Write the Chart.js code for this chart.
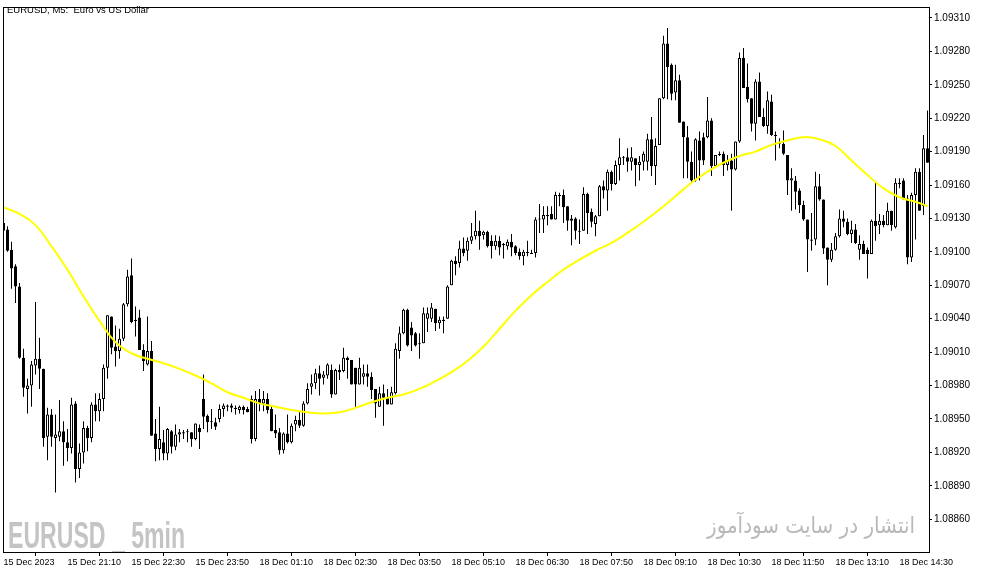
<!DOCTYPE html>
<html>
<head>
<meta charset="utf-8">
<script src="https://cdn.jsdelivr.net/npm/chart.js@4.4.0/dist/chart.umd.min.js"></script>
<style>
html,body{margin:0;padding:0;background:#fff;overflow:hidden;}
#wrap{width:983px;height:574px;position:relative;}
canvas{display:block;}
</style>
</head>
<body>
<div id="wrap"><canvas id="c" width="983" height="574"></canvas></div>
<script>
// ---- Data (EURUSD M5) ----
const open = [
1.09126,1.09120,1.09102,1.09087,1.09069,1.09005,1.08977,1.08980,1.08998,1.09004,
1.08995,1.08934,1.08954,1.08933,1.08934,1.08939,1.08929,1.08924,1.08964,1.08905,
1.08920,1.08942,1.08933,1.08963,1.08957,1.08968,1.08996,1.09042,1.09015,1.09011,
1.09022,1.09053,1.09079,1.09039,1.09041,1.09012,1.08999,1.09011,1.08937,1.08923,
1.08929,1.08919,1.08939,1.08925,1.08936,1.08937,1.08938,1.08938,1.08932,1.08942,
1.08968,1.08953,1.08948,1.08947,1.08950,1.08959,1.08962,1.08962,1.08960,1.08958,
1.08961,1.08959,1.08968,1.08932,1.08968,1.08964,1.08968,1.08959,1.08940,1.08938,
1.08922,1.08937,1.08929,1.08945,1.08949,1.08944,1.08964,1.08979,1.08982,1.08991,
1.08987,1.08989,1.08994,1.08972,1.08994,1.08993,1.09005,1.09003,1.08996,1.08981,
1.08988,1.08991,1.08988,1.08977,1.08961,1.08973,1.08969,1.08963,1.08973,1.09011,
1.09027,1.09048,1.09032,1.09027,1.09018,1.09018,1.09040,1.09040,1.09049,1.09036,
1.09039,1.09040,1.09070,1.09092,1.09090,1.09103,1.09101,1.09110,1.09114,1.09119,
1.09115,1.09118,1.09110,1.09105,1.09110,1.09107,1.09105,1.09109,1.09105,1.09100,
1.09096,1.09099,1.09099,1.09099,1.09129,1.09129,1.09133,1.09134,1.09129,1.09151,
1.09151,1.09141,1.09130,1.09130,1.09119,1.09119,1.09152,1.09136,1.09125,1.09132,
1.09159,1.09155,1.09172,1.09161,1.09178,1.09185,1.09185,1.09181,1.09184,1.09178,
1.09181,1.09181,1.09201,1.09177,1.09196,1.09238,1.09287,1.09268,1.09243,1.09254,
1.09217,1.09203,1.09181,1.09164,1.09200,1.09203,1.09203,1.09218,1.09177,1.09187,
1.09188,1.09178,1.09182,1.09174,1.09199,1.09274,1.09248,1.09238,1.09215,1.09253,
1.09221,1.09213,1.09235,1.09205,1.09198,1.09197,1.09187,1.09164,1.09164,1.09155,
1.09142,1.09129,1.09110,1.09111,1.09159,1.09147,1.09104,1.09093,1.09102,1.09114,
1.09130,1.09127,1.09116,1.09120,1.09102,1.09107,1.09102,1.09098,1.09128,1.09124,
1.09128,1.09124,1.09137,1.09122,1.09162,1.09164,1.09148,1.09095,1.09151,1.09172,
1.09141,1.09193];
const high = [
1.09130,1.09123,1.09109,1.09089,1.09072,1.09013,1.08986,1.09002,1.09055,1.09023,
1.08995,1.08960,1.08959,1.08954,1.08967,1.08948,1.08941,1.08969,1.08966,1.08928,
1.08948,1.08944,1.08965,1.08973,1.08973,1.08999,1.09043,1.09042,1.09034,1.09031,
1.09054,1.09084,1.09094,1.09051,1.09048,1.09017,1.09042,1.09020,1.08950,1.08961,
1.08940,1.08942,1.08940,1.08945,1.08941,1.08940,1.08941,1.08938,1.08946,1.08945,
1.08990,1.08954,1.08959,1.08951,1.08963,1.08964,1.08963,1.08964,1.08962,1.08962,
1.08962,1.08961,1.08971,1.08975,1.08977,1.08975,1.08973,1.08962,1.08954,1.08942,
1.08938,1.08954,1.08946,1.08953,1.08957,1.08966,1.08982,1.08990,1.08995,1.08998,
1.08993,1.09000,1.08999,1.08995,1.08999,1.09014,1.09006,1.09003,1.08996,1.09005,
1.08999,1.08999,1.08992,1.08977,1.08979,1.08981,1.08977,1.08979,1.09018,1.09033,
1.09049,1.09049,1.09037,1.09028,1.09027,1.09050,1.09050,1.09054,1.09049,1.09042,
1.09042,1.09070,1.09093,1.09096,1.09110,1.09113,1.09113,1.09126,1.09137,1.09128,
1.09119,1.09119,1.09115,1.09115,1.09114,1.09108,1.09111,1.09116,1.09106,1.09103,
1.09102,1.09110,1.09102,1.09131,1.09143,1.09141,1.09141,1.09141,1.09154,1.09153,
1.09156,1.09141,1.09133,1.09131,1.09129,1.09158,1.09153,1.09139,1.09133,1.09160,
1.09164,1.09174,1.09173,1.09182,1.09202,1.09186,1.09193,1.09194,1.09184,1.09186,
1.09190,1.09206,1.09221,1.09202,1.09238,1.09294,1.09301,1.09269,1.09268,1.09259,
1.09217,1.09213,1.09190,1.09202,1.09208,1.09207,1.09239,1.09220,1.09187,1.09190,
1.09190,1.09187,1.09188,1.09199,1.09279,1.09283,1.09269,1.09238,1.09255,1.09261,
1.09229,1.09244,1.09241,1.09208,1.09202,1.09209,1.09187,1.09175,1.09168,1.09157,
1.09146,1.09129,1.09135,1.09172,1.09170,1.09147,1.09104,1.09108,1.09117,1.09138,
1.09137,1.09130,1.09128,1.09125,1.09115,1.09110,1.09104,1.09129,1.09162,1.09134,
1.09133,1.09144,1.09137,1.09166,1.09166,1.09166,1.09151,1.09153,1.09175,1.09175,
1.09205,1.09227];
const low = [
1.09117,1.09100,1.09067,1.09054,1.09004,1.08970,1.08955,1.08961,1.08990,1.08977,
1.08925,1.08913,1.08925,1.08884,1.08930,1.08908,1.08912,1.08919,1.08893,1.08897,
1.08910,1.08921,1.08929,1.08948,1.08948,1.08957,1.08986,1.09008,1.08997,1.09004,
1.09020,1.09051,1.09036,1.09024,1.09012,1.08993,1.08998,1.08935,1.08912,1.08913,
1.08913,1.08913,1.08919,1.08922,1.08929,1.08932,1.08929,1.08925,1.08931,1.08923,
1.08941,1.08938,1.08941,1.08940,1.08947,1.08952,1.08957,1.08956,1.08954,1.08955,
1.08954,1.08956,1.08928,1.08930,1.08957,1.08957,1.08955,1.08939,1.08933,1.08918,
1.08919,1.08928,1.08928,1.08939,1.08942,1.08943,1.08963,1.08972,1.08977,1.08971,
1.08981,1.08986,1.08969,1.08972,1.08985,1.08992,1.08986,1.08981,1.08961,1.08981,
1.08981,1.08979,1.08968,1.08951,1.08961,1.08944,1.08963,1.08963,1.08972,1.09004,
1.09026,1.09015,1.09011,1.09015,1.09004,1.09018,1.09028,1.09037,1.09029,1.09031,
1.09027,1.09040,1.09070,1.09079,1.09086,1.09096,1.09092,1.09107,1.09111,1.09102,
1.09111,1.09104,1.09094,1.09102,1.09097,1.09094,1.09102,1.09096,1.09097,1.09093,
1.09088,1.09096,1.09098,1.09095,1.09117,1.09117,1.09124,1.09129,1.09129,1.09141,
1.09126,1.09119,1.09106,1.09111,1.09107,1.09119,1.09116,1.09122,1.09114,1.09132,
1.09148,1.09137,1.09155,1.09160,1.09164,1.09178,1.09172,1.09173,1.09159,1.09164,
1.09173,1.09173,1.09168,1.09160,1.09196,1.09237,1.09237,1.09236,1.09236,1.09216,
1.09166,1.09166,1.09163,1.09163,1.09164,1.09178,1.09202,1.09168,1.09177,1.09186,
1.09168,1.09173,1.09137,1.09173,1.09198,1.09247,1.09234,1.09208,1.09200,1.09221,
1.09212,1.09206,1.09204,1.09182,1.09193,1.09187,1.09151,1.09137,1.09138,1.09135,
1.09128,1.09082,1.09101,1.09106,1.09146,1.09098,1.09070,1.09091,1.09101,1.09113,
1.09122,1.09115,1.09108,1.09107,1.09093,1.09098,1.09076,1.09098,1.09110,1.09116,
1.09122,1.09124,1.09119,1.09121,1.09157,1.09147,1.09089,1.09091,1.09111,1.09137,
1.09133,1.09180];
const close = [
1.09119,1.09101,1.09085,1.09069,1.09005,1.08978,1.08980,1.08999,1.09004,1.08995,
1.08933,1.08954,1.08934,1.08936,1.08939,1.08929,1.08924,1.08963,1.08905,1.08920,
1.08942,1.08933,1.08963,1.08957,1.08968,1.08996,1.09043,1.09014,1.09011,1.09022,
1.09053,1.09078,1.09037,1.09038,1.09012,1.09002,1.09011,1.08935,1.08923,1.08932,
1.08919,1.08941,1.08925,1.08936,1.08938,1.08938,1.08939,1.08932,1.08946,1.08938,
1.08952,1.08947,1.08947,1.08943,1.08959,1.08962,1.08961,1.08960,1.08959,1.08961,
1.08958,1.08956,1.08932,1.08968,1.08964,1.08968,1.08958,1.08939,1.08937,1.08922,
1.08937,1.08929,1.08944,1.08949,1.08944,1.08964,1.08977,1.08982,1.08991,1.08986,
1.08990,1.08999,1.08972,1.08994,1.08992,1.09005,1.09003,1.08981,1.08981,1.08996,
1.08991,1.08988,1.08976,1.08964,1.08973,1.08969,1.08963,1.08974,1.09013,1.09027,
1.09048,1.09016,1.09025,1.09016,1.09017,1.09045,1.09045,1.09050,1.09036,1.09039,
1.09038,1.09069,1.09092,1.09089,1.09103,1.09099,1.09110,1.09114,1.09119,1.09114,
1.09118,1.09105,1.09105,1.09110,1.09104,1.09106,1.09109,1.09104,1.09099,1.09096,
1.09100,1.09100,1.09098,1.09129,1.09130,1.09133,1.09132,1.09129,1.09151,1.09150,
1.09140,1.09128,1.09128,1.09119,1.09118,1.09152,1.09135,1.09127,1.09132,1.09159,
1.09155,1.09172,1.09161,1.09178,1.09185,1.09184,1.09181,1.09185,1.09178,1.09181,
1.09188,1.09201,1.09177,1.09195,1.09238,1.09287,1.09266,1.09242,1.09254,1.09216,
1.09203,1.09181,1.09164,1.09201,1.09182,1.09182,1.09218,1.09177,1.09187,1.09188,
1.09178,1.09182,1.09174,1.09199,1.09274,1.09247,1.09237,1.09215,1.09253,1.09221,
1.09213,1.09236,1.09205,1.09204,1.09197,1.09188,1.09164,1.09166,1.09154,1.09142,
1.09129,1.09111,1.09111,1.09159,1.09147,1.09103,1.09093,1.09102,1.09114,1.09130,
1.09127,1.09116,1.09120,1.09108,1.09107,1.09098,1.09098,1.09128,1.09123,1.09128,
1.09124,1.09137,1.09124,1.09162,1.09161,1.09147,1.09095,1.09151,1.09172,1.09137,
1.09193,1.09180];

// Moving average (yellow), read at every 4th bar
const maIdx = [0,4,8,12,16,20,24,28,32,36,40,44,48,52,56,60,64,68,72,76,80,84,88,92,96,100,104,108,112,116,120,124,128,132,136,140,144,148,152,156,160,164,168,172,176,180,184,188,192,196,200,204,208,212,216,220,224,228,231];
const maVal = [1.09140,1.09134,1.09124,1.09105,1.09084,1.09060,1.09038,1.09019,1.09009,1.09004,1.09000,1.08995,1.08989,1.08982,1.08974,1.08969,1.08964,1.08961,1.08958,1.08956,1.08955,1.08956,1.08960,1.08965,1.08969,1.08972,1.08977,1.08984,1.08992,1.09002,1.09015,1.09031,1.09047,1.09061,1.09073,1.09084,1.09093,1.09101,1.09108,1.09117,1.09127,1.09138,1.09150,1.09162,1.09172,1.09180,1.09186,1.09190,1.09196,1.09200,1.09203,1.09201,1.09195,1.09182,1.09169,1.09157,1.09149,1.09145,1.09141];

// Tick labels
const xTickIdx = [0,16,32,48,64,80,96,112,128,144,160,176,192,208,224];
const xTickLabels = ['15 Dec 2023','15 Dec 21:10','15 Dec 22:30','15 Dec 23:50','18 Dec 01:10','18 Dec 02:30','18 Dec 03:50','18 Dec 05:10','18 Dec 06:30','18 Dec 07:50','18 Dec 09:10','18 Dec 10:30','18 Dec 11:50','18 Dec 13:10','18 Dec 14:30'];
const yTicks = [1.08860,1.08890,1.08920,1.08950,1.08980,1.09010,1.09040,1.09070,1.09100,1.09130,1.09160,1.09190,1.09220,1.09250,1.09280,1.09310];

const titleText = 'EURUSD, M5:  Euro vs US Dollar';
const wmLeft = 'EURUSD _ 5min';
const wmRight = 'انتشار در سایت سودآموز';

// ---- Build datasets ----
const wickData = open.map((o, i) => ({x: i, y: [low[i], high[i]]}));
const bodyData = open.map((o, i) => ({x: i, y: [o, close[i]]}));
const bodyColors = open.map((o, i) => close[i] >= o ? '#ffffff' : '#000000');
const maData = maIdx.map((k, j) => ({x: k, y: maVal[j]}));

const framePlugin = {
  id: 'frame',
  beforeDatasetsDraw(chart) {
    const ctx = chart.ctx;
    ctx.save();
    ctx.fillStyle = '#c4c4c4';
    ctx.font = 'bold 36px "Liberation Sans", Arial, sans-serif';
    ctx.textBaseline = 'alphabetic';
    ctx.textAlign = 'left';
    let w = ctx.measureText(wmLeft).width;
    ctx.save();
    ctx.translate(8, 548);
    ctx.scale(177 / w, 1);
    ctx.fillText(wmLeft, 0, 0);
    ctx.restore();
    ctx.fillStyle = '#b9b9b9';
    ctx.font = '23px "DejaVu Sans", sans-serif';
    w = ctx.measureText(wmRight).width;
    ctx.save();
    ctx.translate(707, 533);
    ctx.scale(208 / w, 1);
    ctx.fillText(wmRight, 0, 0);
    ctx.restore();
    ctx.restore();
  },
  afterDraw(chart) {
    const ctx = chart.ctx;
    const a = chart.chartArea;
    ctx.save();
    ctx.strokeStyle = '#000';
    ctx.lineWidth = 1;
    ctx.strokeRect(a.left - 0.5, a.top - 0.5, a.right - a.left + 1, a.bottom - a.top + 1);
    ctx.fillStyle = '#000';
    ctx.font = '9.5px "Liberation Sans", Arial, sans-serif';
    ctx.textBaseline = 'top';
    ctx.textAlign = 'left';
    ctx.fillText(titleText, 7, 6);
    ctx.restore();
  }
};

new Chart(document.getElementById('c'), {
  type: 'bar',
  data: {
    datasets: [
      {
        type: 'line', label: 'MA', data: maData, order: 0,
        borderColor: '#ffff00', borderWidth: 2, pointRadius: 0,
        tension: 0.45, fill: false
      },
      {
        label: 'body', data: bodyData, order: 1, grouped: false,
        backgroundColor: bodyColors, borderColor: '#000000', borderWidth: 1,
        borderSkipped: false, barThickness: 3, minBarLength: 1, inflateAmount: 0
      },
      {
        label: 'wick', data: wickData, order: 2, grouped: false,
        backgroundColor: '#000000', borderWidth: 0, barThickness: 1, inflateAmount: 0
      }
    ]
  },
  options: {
    responsive: false,
    maintainAspectRatio: false,
    devicePixelRatio: 1,
    animation: false,
    layout: { padding: { left: 4, top: 4, right: 0, bottom: 0 } },
    plugins: { legend: { display: false }, tooltip: { enabled: false }, title: { display: false } },
    scales: {
      x: {
        type: 'linear', position: 'bottom',
        min: 0.125, max: 231.375, offset: false,
        afterBuildTicks: (s) => { s.ticks = xTickIdx.map(v => ({ value: v })); },
        afterFit: (s) => { s.height = 22; },
        border: { display: false },
        grid: { display: true, drawOnChartArea: false, drawTicks: true, tickLength: 4, color: '#000', tickColor: '#000' },
        ticks: {
          autoSkip: false, maxRotation: 0, minRotation: 0, align: 'start', padding: 1,
          color: '#000', font: { family: '"Liberation Sans", Arial, sans-serif', size: 9 },
          callback: (v) => { const k = xTickIdx.indexOf(v); return k >= 0 ? xTickLabels[k] : ''; }
        }
      },
      y: {
        type: 'linear', position: 'right',
        min: 1.0883059, max: 1.0931891,
        afterBuildTicks: (s) => { s.ticks = yTicks.map(v => ({ value: v })); },
        afterFit: (s) => { s.width = 54; },
        border: { display: false },
        grid: { display: true, drawOnChartArea: false, drawTicks: true, tickLength: 3, color: '#000', tickColor: '#000' },
        ticks: {
          autoSkip: false, padding: 2, color: '#000',
          font: { family: '"Liberation Sans", Arial, sans-serif', size: 10 },
          callback: (v) => Number(v).toFixed(5)
        }
      }
    }
  },
  plugins: [framePlugin]
});
</script>
</body>
</html>
